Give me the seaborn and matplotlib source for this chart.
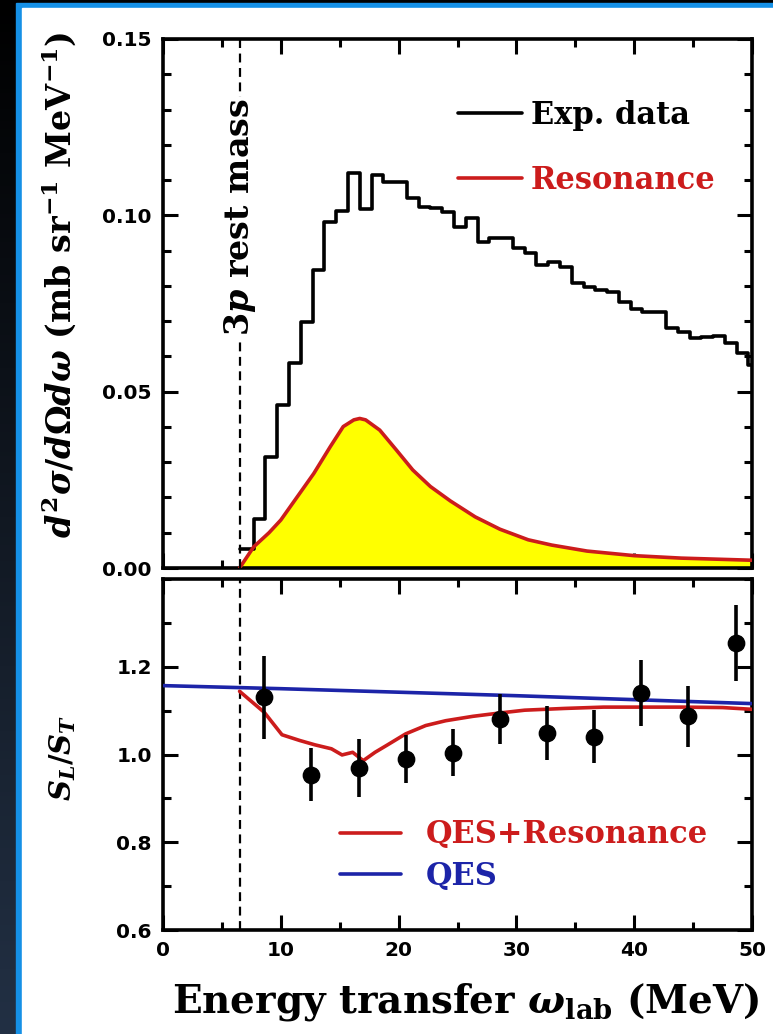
import numpy as np
import matplotlib
matplotlib.use('Agg')
import matplotlib.pyplot as plt
from matplotlib.patches import Rectangle
from matplotlib.lines import Line2D
from matplotlib.ticker import MultipleLocator
import seaborn as sns

# measured spectrum, 1 MeV bins (edges and bin heights)
hist_edges = [6.5, 7.7, 8.7, 9.7, 10.7, 11.7, 12.7, 13.7, 14.7, 15.7, 16.7,
              17.7, 18.7, 19.7, 20.7, 21.7, 22.7, 23.7, 24.7, 25.7, 26.7,
              27.7, 28.7, 29.7, 30.7, 31.7, 32.7, 33.7, 34.7, 35.7, 36.7,
              37.7, 38.7, 39.7, 40.7, 41.7, 42.7, 43.7, 44.7, 45.7, 46.7,
              47.7, 48.7, 49.7, 50.7]
hist_vals = [0.0053, 0.0138, 0.0316, 0.0462, 0.0582, 0.0698, 0.0845, 0.0982,
             0.1012, 0.1119, 0.1017, 0.1114, 0.1095, 0.1095, 0.1048, 0.1024,
             0.1020, 0.1010, 0.0968, 0.0993, 0.0925, 0.0935, 0.0935, 0.0906,
             0.0892, 0.0859, 0.0868, 0.0854, 0.0807, 0.0798, 0.0788, 0.0783,
             0.0755, 0.0734, 0.0727, 0.0727, 0.0680, 0.0670, 0.0651, 0.0656,
             0.0658, 0.0637, 0.0610, 0.0575]

# resonance contribution
res_x = [6.5, 7.7, 9.0, 10.0, 11.4, 12.8, 14.2, 15.3, 16.2, 16.7, 17.2, 18.4,
         19.8, 21.2, 22.7, 24.4, 26.5, 28.6, 31.0, 33.0, 36.0, 40.0, 44.0, 50.0]
res_y = [0.0, 0.0060, 0.0100, 0.0136, 0.0202, 0.0268, 0.0344, 0.0401, 0.0420,
         0.0424, 0.0420, 0.0391, 0.0335, 0.0278, 0.0231, 0.0190, 0.0145, 0.0110,
         0.0080, 0.0065, 0.0048, 0.0035, 0.0028, 0.0022]

# S_L/S_T data points
pts_x = [8.6, 12.6, 16.6, 20.6, 24.6, 28.6, 32.6, 36.6, 40.6, 44.6, 48.6]
pts_y = [1.130, 0.954, 0.970, 0.990, 1.004, 1.081, 1.049, 1.041, 1.140, 1.087, 1.254]
pts_err = [0.094, 0.061, 0.066, 0.055, 0.053, 0.056, 0.062, 0.060, 0.075, 0.069, 0.086]

# model curves
qes_x = [0, 10, 20, 30, 40, 50]
qes_y = [1.157, 1.150, 1.142, 1.134, 1.125, 1.116]
qesres_x = [6.5, 8.6, 10.1, 11.6, 12.9, 14.3, 15.2, 16.1, 17.0, 18.0, 19.0, 20.6,
            22.3, 24.0, 26.3, 28.4, 30.7, 34.1, 37.4, 40.8, 44.1, 47.5, 50.0]
qesres_y = [1.144, 1.096, 1.045, 1.032, 1.022, 1.013, 0.999, 1.005, 0.986, 1.005,
            1.021, 1.047, 1.066, 1.077, 1.087, 1.094, 1.101, 1.105, 1.108, 1.108,
            1.108, 1.107, 1.103]

threshold = 6.5

sns.set_style('ticks')
plt.rcParams['font.family'] = ['DejaVu Serif']
plt.rcParams['font.weight'] = 'bold'
plt.rcParams['axes.labelweight'] = 'bold'
plt.rcParams['text.color'] = 'black'
plt.rcParams['axes.labelcolor'] = 'black'
plt.rcParams['xtick.color'] = 'black'
plt.rcParams['ytick.color'] = 'black'
plt.rcParams['mathtext.fontset'] = 'custom'
plt.rcParams['mathtext.it'] = 'DejaVu Serif:italic:bold'
plt.rcParams['mathtext.rm'] = 'DejaVu Serif:bold'
plt.rcParams['mathtext.bf'] = 'DejaVu Serif:bold'

RED = '#cc1c1c'
BLUE = '#1c24a8'

fig = plt.figure(figsize=(7.73, 10.34), dpi=100)

# background frame
bg = fig.add_axes([0, 0, 1, 1], zorder=-10)
grad = np.linspace(0, 1, 256).reshape(-1, 1)
bg.imshow(grad, aspect='auto', extent=[0, 1, 0, 1], origin='upper',
          cmap=matplotlib.colors.LinearSegmentedColormap.from_list('bgc', ['#000000', '#223044']))
bg.add_patch(Rectangle((16 / 773, 0), 1, 1 - 3 / 1034, color='#1590e6', transform=bg.transAxes))
bg.add_patch(Rectangle((21.5 / 773, 0), 1, 1 - 8 / 1034, color='white', transform=bg.transAxes))
bg.set_xlim(0, 1)
bg.set_ylim(0, 1)
bg.axis('off')

ax1 = fig.add_axes([163 / 773, 1 - 568 / 1034, 589 / 773, 529 / 1034])
ax2 = fig.add_axes([163 / 773, 1 - 930 / 1034, 589 / 773, 351 / 1034])

# top panel
centers = [(a + b) / 2 for a, b in zip(hist_edges[:-1], hist_edges[1:])]
sns.histplot(x=centers, weights=hist_vals, bins=hist_edges, element='step',
             fill=False, color='black', linewidth=2.6, ax=ax1)
ax1.fill_between(res_x, res_y, 0, color='#ffff00', zorder=1, linewidth=0)
sns.lineplot(x=res_x, y=res_y, color=RED, linewidth=2.6, sort=False,
             estimator=None, ax=ax1, zorder=3)
ax1.axvline(threshold, color='black', linestyle=(0, (4, 2.5)), linewidth=1.6, zorder=4)
ax1.text(threshold, 0.0995, r'3$p$ rest mass', rotation=90, ha='center', va='center',
         fontsize=24, fontweight='bold', zorder=5,
         bbox=dict(facecolor='white', edgecolor='none', pad=1))

ax1.set_xlim(0, 50)
ax1.set_ylim(0, 0.15)
ax1.set_xlabel('')
ax1.set_ylabel(r'$d^2\sigma/d\Omega d\omega$ (mb sr$^{-1}$ MeV$^{-1}$)', fontsize=24)
ax1.yaxis.set_label_coords(-0.144, 0.535)
ax1.set_yticks([0, 0.05, 0.10, 0.15])
ax1.set_yticklabels(['0.00', '0.05', '0.10', '0.15'])
ax1.yaxis.set_minor_locator(MultipleLocator(0.01))
ax1.xaxis.set_major_locator(MultipleLocator(10))
ax1.xaxis.set_minor_locator(MultipleLocator(5))
ax1.tick_params(axis='x', labelbottom=False)

h1 = [Line2D([], [], color='black', lw=2.6), Line2D([], [], color=RED, lw=2.6)]
leg1 = ax1.legend(h1, ['Exp. data', 'Resonance'], loc='center left',
                  bbox_to_anchor=(0.50, 0.794), frameon=False, fontsize=22,
                  handlelength=2.1, handletextpad=0.3, labelspacing=1.1,
                  borderpad=0, borderaxespad=0)
leg1.get_texts()[1].set_color(RED)

# bottom panel
ax2.errorbar(pts_x, pts_y, yerr=pts_err, fmt='none', ecolor='black',
             elinewidth=2.6, capsize=0, zorder=5)
sns.scatterplot(x=pts_x, y=pts_y, color='black', s=140, edgecolor='black',
                ax=ax2, zorder=6)
sns.lineplot(x=qes_x, y=qes_y, color=BLUE, linewidth=2.6, ax=ax2, zorder=3)
sns.lineplot(x=qesres_x, y=qesres_y, color=RED, linewidth=2.6, sort=False,
             estimator=None, ax=ax2, zorder=4)
ax2.axvline(threshold, color='black', linestyle=(0, (4, 2.5)), linewidth=1.6, zorder=2)

ax2.set_xlim(0, 50)
ax2.set_ylim(0.6, 1.4)
ax2.set_yticks([0.6, 0.8, 1.0, 1.2])
ax2.set_yticklabels(['0.6', '0.8', '1.0', '1.2'])
ax2.yaxis.set_minor_locator(MultipleLocator(0.1))
ax2.xaxis.set_major_locator(MultipleLocator(10))
ax2.xaxis.set_minor_locator(MultipleLocator(5))
ax2.set_ylabel(r'$S_L/S_T$', fontsize=21)
ax2.yaxis.set_label_coords(-0.144, 0.49)
ax2.set_xlabel(r'Energy transfer $\omega_{\rm lab}$ (MeV)', fontsize=28)
ax2.xaxis.set_label_coords(0.513, -0.145)

h2 = [Line2D([], [], color=RED, lw=2.6), Line2D([], [], color=BLUE, lw=2.6)]
leg2 = ax2.legend(h2, ['QES+Resonance', 'QES'], loc='center left',
                  bbox_to_anchor=(0.30, 0.212), frameon=False, fontsize=22,
                  handlelength=2.0, handletextpad=0.8, labelspacing=0.35,
                  borderpad=0, borderaxespad=0)
leg2.get_texts()[0].set_color(RED)
leg2.get_texts()[1].set_color(BLUE)

for ax in (ax1, ax2):
    for sp in ax.spines.values():
        sp.set_linewidth(2.6)
        sp.set_color('black')
    ax.tick_params(which='both', direction='in', top=True, right=True,
                   width=2.2, color='black')
    ax.tick_params(which='major', length=11, pad=8)
    ax.tick_params(which='minor', length=6)
    for lab in ax.get_xticklabels() + ax.get_yticklabels():
        lab.set_family('DejaVu Sans')
        lab.set_fontweight('bold')
        lab.set_fontsize(14.5)

fig.savefig('out.png', dpi=100)
